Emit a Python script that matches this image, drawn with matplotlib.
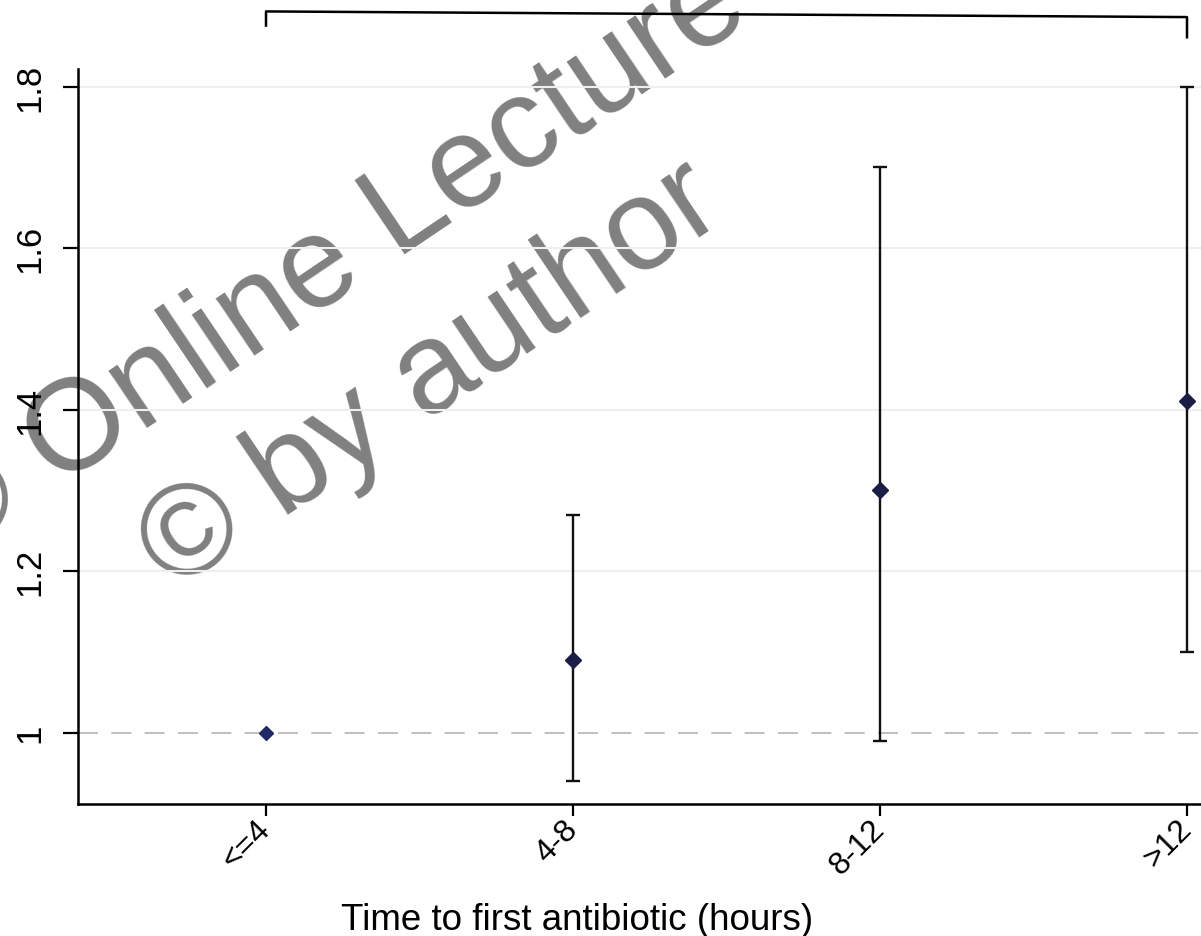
import matplotlib.pyplot as plt

# data (odds ratio with 95% CI)
groups = ['<=4', '4-8', '8-12', '>12']
xpos = [1, 2, 3, 4]
or_val = [1.00, 1.09, 1.30, 1.41]
ci_low = [1.00, 0.94, 0.99, 1.10]
ci_high = [1.00, 1.27, 1.70, 1.80]
yticks = [1.0, 1.2, 1.4, 1.6, 1.8]
ytick_labels = ['1', '1.2', '1.4', '1.6', '1.8']

lab_font = ['Liberation Sans', 'DejaVu Sans']

fig = plt.figure(figsize=(12.01, 9.37), dpi=100)
ax = fig.add_axes([0.06495, 0.14087, 0.93505, 0.78442])
ax.set_facecolor('none')

# grid + reference line
for y in yticks[1:]:
    ax.axhline(y, color='#efefef', lw=1.5, zorder=0)
ax.axhline(1, color='#b4b4b4', lw=1.2, linestyle=(0, (12, 8)), zorder=1)

# error bars (the reference group has no interval)
err_lo = [v - l for v, l in zip(or_val, ci_low)]
err_hi = [h - v for v, h in zip(or_val, ci_high)]
ax.errorbar(xpos[1:], or_val[1:], yerr=[err_lo[1:], err_hi[1:]], fmt='none',
            ecolor='#111111', elinewidth=1.7, capsize=5, capthick=1.7, zorder=2)
ax.plot(xpos[1:], or_val[1:], 'D', color='#1a1d45', ms=8.5, zorder=3)
ax.plot(xpos[:1], or_val[:1], 'D', color='#1f2a66', ms=7, zorder=3)

# bracket above the panel
ax.plot([1, 1, 4, 4], [1.8755, 1.893, 1.886, 1.861], color='black', lw=1.8,
        clip_on=False)

ax.set_xlim(0.3876, 4.0456)
ax.set_ylim(0.9115, 1.8217)
for s in ['top', 'right']:
    ax.spines[s].set_visible(False)
for s in ['left', 'bottom']:
    ax.spines[s].set_linewidth(1.8)

ax.set_yticks(yticks)
ax.set_yticklabels(ytick_labels, rotation=90, va='center', family=lab_font, fontsize=25)
ax.tick_params(axis='y', length=10.5, width=1.6, pad=12)
ax.set_xticks(xpos)
ax.set_xticklabels(groups, rotation=45, ha='right', va='center',
                   rotation_mode='anchor', family=lab_font, fontsize=23)
ax.tick_params(axis='x', length=8.5, width=1.6, pad=6)

ax.set_xlabel('Time to first antibiotic (hours)', family=lab_font, fontsize=26.5)
ax.xaxis.label.set_va('baseline')
ax.xaxis.set_label_coords(0.4443, -0.170)

# watermark (anchored at the left end of each line)
fig.text(-52 / 1201, 1 - 562 / 937, '\u00a9 Online Lecture', rotation=34,
         rotation_mode='anchor', ha='left', va='baseline', fontsize=93,
         family='Liberation Sans', color='#808080', zorder=-1)
fig.text(173 / 1201, 1 - 593 / 937, '\u00a9 by author', rotation=34,
         rotation_mode='anchor', ha='left', va='baseline', fontsize=93,
         family='Liberation Sans', color='#808080', zorder=-1)

plt.savefig('out.png', dpi=100)
